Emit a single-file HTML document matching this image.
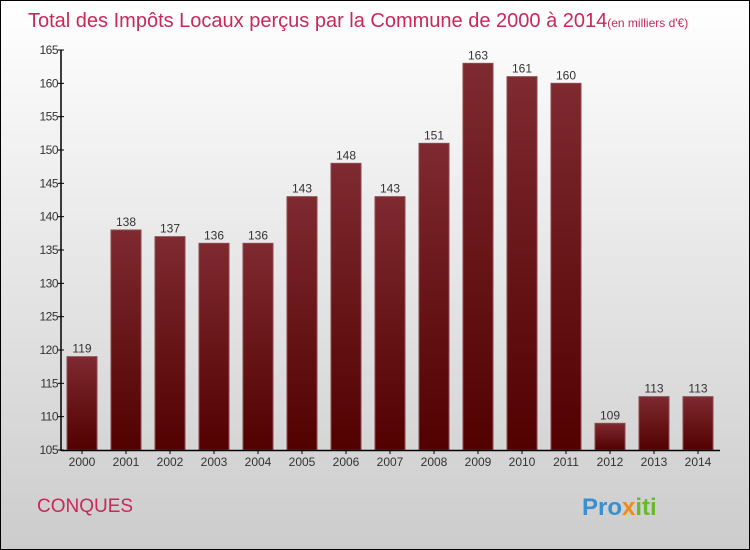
<!DOCTYPE html>
<html><head><meta charset="utf-8"><style>
body{margin:0;width:750px;height:550px;overflow:hidden}
svg{display:block;font-family:"Liberation Sans",sans-serif}
</style></head><body>
<svg id="c" width="750" height="550">
<defs>
<linearGradient id="bg" x1="0" y1="0" x2="0" y2="1"><stop offset="0" stop-color="#ffffff"/><stop offset="1" stop-color="#cccccc"/></linearGradient>
<linearGradient id="bar" x1="0" y1="0" x2="0" y2="1"><stop offset="0" stop-color="#7e2a30"/><stop offset="1" stop-color="#520000"/></linearGradient>
</defs>
<rect x="0.5" y="0.5" width="749" height="549" fill="url(#bg)" stroke="#000"/>
<text x="28" y="27" font-size="20" fill="#c8285a">Total des Impôts Locaux perçus par la Commune de 2000 à 2014<tspan font-size="12">(en milliers d'€)</tspan></text>
<text x="37" y="512" font-size="19" fill="#c8285a">CONQUES</text>
<text x="582" y="515" font-size="24" font-weight="bold" fill="#3a8fd0">Pro<tspan fill="#f08a1c">x</tspan><tspan fill="#6ab82e">iti</tspan></text>
<g id="g"></g>
</svg>
<script>
const years=["2000","2001","2002","2003","2004","2005","2006","2007","2008","2009","2010","2011","2012","2013","2014"];
const values=[119,138,137,136,136,143,148,143,151,163,161,160,109,113,113];
const ticks=[105,110,115,120,125,130,135,140,145,150,155,160,165];
const g=document.getElementById('g');const NS='http://www.w3.org/2000/svg';
const y=v=>450-(v-105)*400/60, x=i=>82+i*44;
function mk(t,a){const e=document.createElementNS(NS,t);for(const k in a)e.setAttribute(k,a[k]);g.appendChild(e);return e;}
years.forEach((yr,i)=>{
 const r=mk('rect',{x:x(i)-15,y:y(values[i]),width:30,height:450-y(values[i]),fill:'url(#bar)',stroke:'#8a4a4e','stroke-width':1});
 
 
 const l=mk('text',{x:x(i),y:y(values[i])-4,'text-anchor':'middle','font-size':12,fill:'#333'});l.textContent=values[i];
 
 
 const t=mk('text',{x:x(i),y:466,'text-anchor':'middle','font-size':12,fill:'#333'});t.textContent=yr;
 
 
 mk('line',{x1:x(i),x2:x(i),y1:450,y2:454,stroke:'#000'});
});
ticks.forEach(v=>{
 mk('line',{x1:58,x2:64,y1:y(v),y2:y(v),stroke:'#000'});
 const t=mk('text',{x:58,y:y(v)+4,'text-anchor':'end','font-size':12,fill:'#333','letter-spacing':'-0.5'});t.textContent=v;
 
 
});
const ya=mk('line',{x1:61,x2:61,y1:50,y2:451,stroke:'#000','stroke-width':1.5});


const xa=mk('line',{x1:61,x2:720,y1:450.5,y2:450.5,stroke:'#000','stroke-width':1.5});


</script>
</body></html>
